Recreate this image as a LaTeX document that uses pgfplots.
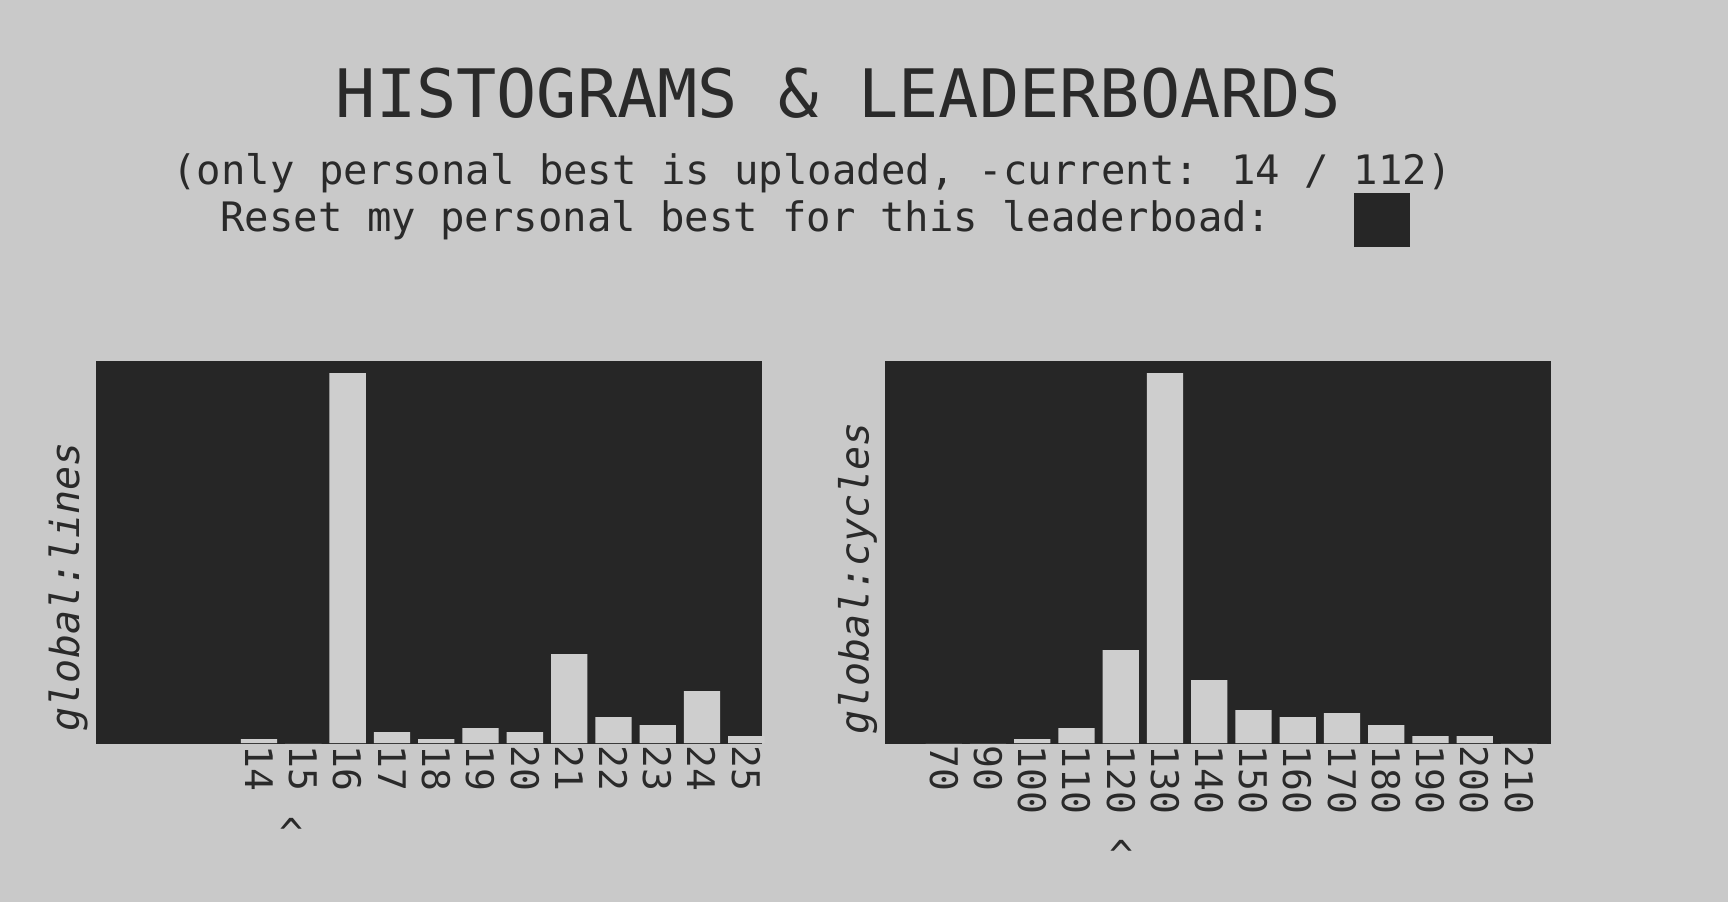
\documentclass[border=0pt]{standalone}
\usepackage{fontspec}
\setmainfont{DejaVu Sans Mono}
\usepackage{pgfplots}
\usepackage{pgfplotstable}
\pgfplotsset{compat=1.18}
\definecolor{bg}{HTML}{C9C9C9}
\definecolor{dk}{HTML}{262626}
\definecolor{barc}{HTML}{CECECE}
\definecolor{txt}{HTML}{2A2A2A}

\pgfplotstableread{
x y
14 4
15 0
16 370
17 11
18 4
19 15
20 11
21 89
22 26
23 18
24 52
25 7
}\linesdata

\pgfplotstableread{
x y
8 0
9 0
10 4
11 15
12 93
13 370
14 63
15 33
16 26
17 30
18 18
19 7
20 7
21 0
}\cyclesdata

\pgfplotsset{
  hist/.style={
    anchor=south west,
    scale only axis,
    width=332.5pt, height=190.75pt,
    ymin=0, ymax=381.5,
    ytick=\empty,
    axis background/.style={fill=dk},
    axis line style={dk},
    major tick length=0pt,
    clip=false,
    /pgf/number format/assume math mode=true,
    xticklabel style={rotate=-90, anchor=west, inner sep=1pt, text=txt,
      font=\fontsize{19}{22}\selectfont},
    ylabel style={rotate=0, anchor=south west, inner sep=0pt, text=txt,
      font=\itshape\fontsize{20}{24}\selectfont},
  }
}

\begin{document}
\begin{tikzpicture}
\fill[bg] (0,0) rectangle (864pt,451pt);
\node[anchor=base, inner sep=0pt, text=txt, font=\fontsize{33.4}{38}\selectfont]
  at (419.25pt,392pt) {HISTOGRAMS \& LEADERBOARDS};
\node[anchor=base, inner sep=0pt, text=txt, font=\fontsize{20.3}{24}\selectfont]
  at (406pt,359pt) {(only personal best is uploaded, -current: 14 / 112)};
\node[anchor=base west, inner sep=0pt, text=txt, font=\fontsize{20.3}{24}\selectfont]
  at (110pt,335.5pt) {Reset my personal best for this leaderboad:};
\fill[dk] (677pt,327.5pt) rectangle (705pt,354.5pt);

\begin{axis}[hist, at={(48pt,79.5pt)},
  xmin=10.32, xmax=25.33,
  xtick={14,15,16,17,18,19,20,21,22,23,24,25},
  xticklabels={14,15,16,17,18,19,20,21,22,23,24,25},
  ylabel={global:lines},
  ylabel style={at={(axis description cs:-0.012,0.03)}}]
\addplot[ybar, bar width=0.82, bar shift=0pt, fill=barc, draw=none] table[x=x,y=y]{\linesdata};
\node[anchor=north, inner sep=0pt, text=txt, font=\fontsize{20}{24}\selectfont]
  at (axis cs:14.74,-75) {\textasciicircum};
\end{axis}

\begin{axis}[hist, at={(442.5pt,79.5pt)},
  xmin=6.67, xmax=21.70,
  xtick={8,9,10,11,12,13,14,15,16,17,18,19,20,21},
  xticklabels={70,90,100,110,120,130,140,150,160,170,180,190,200,210},
  ylabel={global:cycles},
  ylabel style={at={(axis description cs:-0.011,0.02)}}]
\addplot[ybar, bar width=0.82, bar shift=0pt, fill=barc, draw=none] table[x=x,y=y]{\cyclesdata};
\node[anchor=north, inner sep=0pt, text=txt, font=\fontsize{20}{24}\selectfont]
  at (axis cs:12.02,-97) {\textasciicircum};
\end{axis}
\end{tikzpicture}
\end{document}
